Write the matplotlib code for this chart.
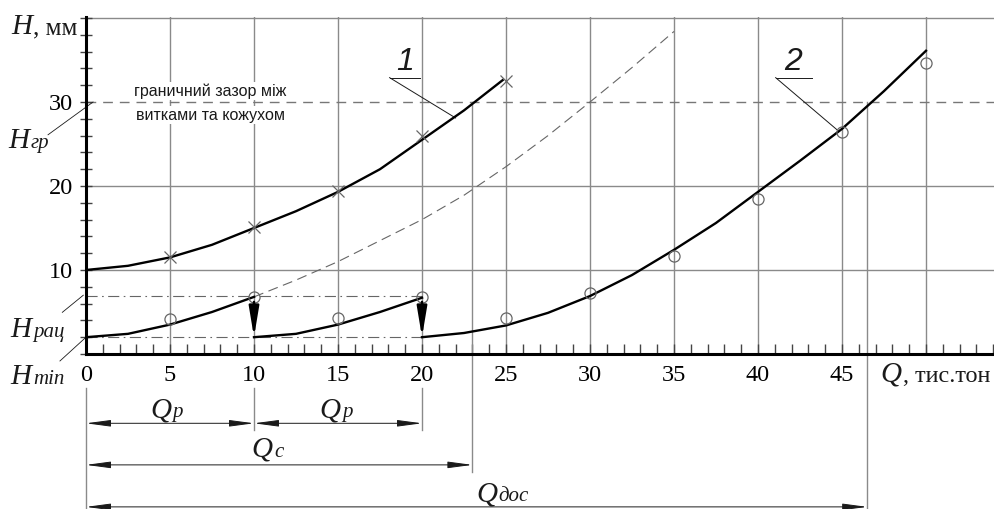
import matplotlib
matplotlib.use("Agg")
import matplotlib.pyplot as plt
from matplotlib.offsetbox import TextArea, HPacker, AnnotationBbox

plt.rcParams['font.family'] = ['Liberation Serif', 'DejaVu Serif']

# curve 1 (without regulation)
q1 = [0, 2.5, 5, 7.5, 10, 12.5, 15, 17.5, 20, 22.5, 24.8]
h1 = [10.0, 10.5, 11.5, 13.0, 15.0, 17.0, 19.3, 22.0, 25.5, 29.0, 32.6]
q1_pts = [5, 10, 15, 20, 25]
h1_pts = [11.6, 15.1, 19.4, 25.9, 32.5]

# thin dashed curve (continuation of first segment)
q_dash = [10, 12.5, 15, 17.5, 20, 22.5, 25, 27.5, 30, 32.5, 35]
h_dash = [6.8, 8.8, 11.0, 13.5, 16.0, 18.9, 22.3, 26.0, 30.0, 34.1, 38.4]

# curve 2 - three segments
q2a = [0, 2.5, 5, 7.5, 10]
h2a = [2.0, 2.4, 3.5, 5.0, 6.8]
q2b = [10, 12.5, 15, 17.5, 20]
h2b = [2.0, 2.4, 3.5, 5.0, 6.7]
q2c = [20, 22.5, 25, 27.5, 30, 32.5, 35, 37.5, 40, 42.5, 45, 47.5, 50]
h2c = [2.0, 2.5, 3.4, 4.9, 6.9, 9.4, 12.4, 15.6, 19.3, 23.0, 26.8, 31.3, 36.1]
q2_pts = [5, 10, 15, 20, 25, 30, 35, 40, 45, 50]
h2_pts = [4.2, 6.8, 4.3, 6.8, 4.3, 7.3, 11.7, 18.5, 26.4, 34.7]

h_gr = 30
h_rac = 6.9
h_min = 2
q_p = [0, 10, 20]
q_c = 23
q_dos = 46.5

x_ticks = [0, 5, 10, 15, 20, 25, 30, 35, 40, 45, 50]
x_labels = ['0', '5', '10', '15', '20', '25', '30', '35', '40', '45', '']
y_ticks = [10, 20, 30, 40]
y_labels = ['10', '20', '30', '']

GRID = '#8a8a8a'
INK = '#1a1a1a'

fig = plt.figure(figsize=(9.94, 5.09), dpi=100)
ax = fig.add_axes([86 / 994, 155 / 509, 908 / 994, 337 / 509])
ax.set_xlim(0, 908 / 16.8)
ax.set_ylim(0, 337 / 8.4)

for s in ['top', 'right']:
    ax.spines[s].set_visible(False)
for s in ['left', 'bottom']:
    ax.spines[s].set_linewidth(2.2)
    ax.spines[s].set_color('black')

ax.set_xticks(x_ticks)
ax.set_xticklabels(x_labels)
ax.set_xticks(range(0, 55), minor=True)
ax.set_yticks(y_ticks)
ax.set_yticklabels(y_labels)
ax.set_yticks(range(0, 41, 2), minor=True)
ax.tick_params(axis='x', which='both', direction='in', length=7, width=1,
               color='#444', labelsize=17.5, pad=8)
ax.tick_params(axis='y', which='both', direction='inout', length=9, width=1,
               color='#444', labelsize=17.5, pad=5)
ax.grid(True, which='major', color=GRID, lw=1.0)
ax.get_ygridlines()[2].set_linestyle((0, (7, 5)))
ax.get_ygridlines()[2].set_color('#777')

# main curves
ax.plot(q1, h1, color='black', lw=1.7, zorder=4)
ax.plot(q1_pts, h1_pts, 'x', color='#666', ms=8, mew=0.9, zorder=5)
ax.plot(q_dash, h_dash, color='#666', lw=0.8, ls=(0, (9, 5)), zorder=3)
for qq, hh in [(q2a, h2a), (q2b, h2b), (q2c, h2c)]:
    ax.plot(qq, hh, color='black', lw=1.7, zorder=4)
ax.plot(q2_pts, h2_pts, 'o', mfc='none', mec='#666', ms=8, mew=0.9, zorder=5)

# H_rac, H_min levels
ax.plot([0, q_p[2]], [h_rac, h_rac], color='#666', lw=0.8, ls=(0, (10, 4, 1.5, 4)))
ax.plot([0, q_p[2]], [h_min, h_min], color='#666', lw=0.8, ls=(0, (10, 4, 1.5, 4)))

# drops of level
for q in q_p[1:]:
    ax.annotate('', xy=(q, h_min), xytext=(q, 6.2),
                arrowprops=dict(arrowstyle='-|>,head_length=1.8,head_width=0.3',
                                color='black', lw=1.8, mutation_scale=10,
                                shrinkA=0, shrinkB=0), zorder=6)

# verticals at Q_c and Q_doc
ax.plot([q_c, q_c], [h_gr, -14.0], color=GRID, lw=1.0, clip_on=False)
ax.plot([q_dos, q_dos], [h_gr, -18.6], color=GRID, lw=1.0, clip_on=False)
ax.plot([0, 0], [-4.05, -18.6], color=GRID, lw=1.0, clip_on=False)
for q in q_p[1:]:
    ax.plot([q, q], [-4.05, -9.05], color=GRID, lw=1.0, clip_on=False)

# dimension lines
dim = dict(arrowstyle='<|-|>,head_length=1.5,head_width=0.2', color=INK,
           lw=0.7, mutation_scale=10, shrinkA=0, shrinkB=0)
ax.annotate('', xy=(0, -8.25), xytext=(q_p[1], -8.25), arrowprops=dim,
            annotation_clip=False)
ax.annotate('', xy=(q_p[1], -8.25), xytext=(q_p[2], -8.25), arrowprops=dim,
            annotation_clip=False)
ax.annotate('', xy=(0, -13.2), xytext=(q_c, -13.2), arrowprops=dim,
            annotation_clip=False)
ax.annotate('', xy=(0, -18.2), xytext=(q_dos, -18.2), arrowprops=dim,
            annotation_clip=False)


def label(main, sub, xy, align=(0.5, 0.5), main_size=21, sub_size=15,
          sub_style='italic'):
    parts = [TextArea(main, textprops=dict(size=main_size, style='italic',
                                           color=INK))]
    if sub:
        parts.append(TextArea(sub, textprops=dict(size=sub_size, style=sub_style,
                                                  color=INK)))
    box = HPacker(children=parts, align='baseline', pad=0, sep=1)
    ab = AnnotationBbox(box, xy, xycoords='data', box_alignment=align,
                        frameon=False, pad=0, annotation_clip=False)
    ax.add_artist(ab)


label('Q', 'р', (4.8, -6.7))
label('Q', 'р', (14.9, -6.7))
label('Q', 'с', (10.8, -11.4))
label('Q', 'дос', (24.8, -16.7))
label('H', 'гр', (-3.4, 25.3))
label('H', 'рац', (-2.9, 2.9))
label('H', 'min', (-2.9, -2.7))
label('H', ', мм', (-0.5, 38.9), align=(1, 0.5), sub_size=18, sub_style='normal')
label('Q', ', тис.тон', (47.3, -2.5), align=(0, 0.5), sub_size=17.5,
      sub_style='normal')

# leader lines for H labels
ax.plot([-2.26, 0.42], [26.1, 30.0], color=INK, lw=0.6, clip_on=False)
ax.plot([-1.41, -0.16], [4.96, 7.0], color=INK, lw=0.6, clip_on=False)
ax.plot([-1.55, 0.0], [-0.83, 2.0], color=INK, lw=0.6, clip_on=False)

# curve numbers
for num, tx, ux, end in [('1', 19.0, (18.07, 19.88), (22.0, 28.1)),
                         ('2', 42.1, (41.05, 43.2), (44.7, 26.7))]:
    ax.text(tx, 34.8, num, ha='center', va='center', size=23, style='italic',
            family='Liberation Sans', color=INK)
    ax.plot(list(ux), [32.9, 32.9], color=INK, lw=0.7)
    ax.plot([ux[0], end[0]], [32.9, end[1]], color=INK, lw=0.7)

# note about the limit gap
note = dict(ha='center', va='center', size=11.5, family='Liberation Sans',
            color=INK, bbox=dict(fc='white', ec='none', pad=1.0))
ax.text(7.4, 31.3, 'граничний зазор між', **note)
ax.text(7.4, 28.45, 'витками та кожухом', **note)

fig.savefig('out.png', dpi=100)
